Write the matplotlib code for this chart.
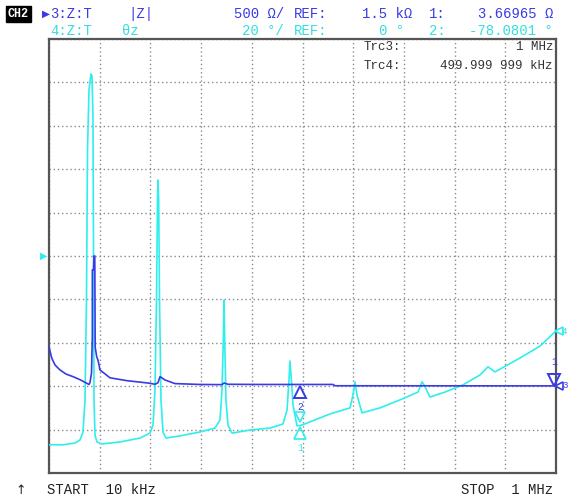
import numpy as np
import matplotlib
matplotlib.use("Agg")
import matplotlib.pyplot as plt

# ---- data (frequency in kHz) ----
z_freq = [10, 15.3, 21.7, 31.5, 43.2, 56.9, 70.5, 83.6, 88.1, 90.1, 93.0, 94.6, 94.7, 96.9,
          97.9, 99.4, 100.2, 103.1, 105.7, 109.6, 129.0, 161.7, 207.2, 217.0, 222.8, 226.8,
          236.5, 256.0, 304.9, 347.8, 351.7, 359.5, 422.0, 564.6, 568.5, 1000]
z_mag = [455, 325, 245, 187, 140, 110, 75, 34, 20, 45, 150, 570, 1340, 1340,
         1500, 1500, 450, 340, 300, 187, 97, 64, 34, 22, 40, 110,
         72, 30, 20, 18, 37, 22, 20, 20, 5, 3.67]

ph_freq = [10, 37.3, 60.8, 70.5, 76.4, 80.3, 83.2, 85.2, 88.1, 92.0, 94.0, 95.9, 96.9, 97.9,
           99.8, 103.7, 113.5, 148.6, 187.7, 207.2, 213.1, 217.0, 219.9, 221.9, 222.8, 224.2,
           225.8, 228.7, 232.6, 238.5, 265.8, 304.9, 334.1, 343.9, 347.8, 350.4, 351.7, 353.1,
           355.6, 359.5, 367.3, 402.5, 441.5, 466.9, 474.8, 478.6, 480.6, 482.6, 486.5, 494.3,
           504.0, 558.7, 597.8, 603.6, 607.5, 611.4, 621.2, 656.3, 695.4, 730.6, 738.4, 742.3,
           754.0, 783.3, 818.4, 851.6, 867.2, 880.9, 929.7, 968.8, 1000]
ph_deg = [-87, -87, -86.2, -84.8, -81.1, -66.4, -20.3, 48.9, 76.5, 83.9, 83.0, 62.7, 2.8, -66.4,
          -82.5, -85.7, -86.6, -85.7, -83.9, -81.6, -77.9, -61.7, -20.3, 25.8, 35.0, 25.8,
          -20.3, -66.4, -81.1, -83.9, -82.9, -81.1, -79.3, -75.6, -61.7, -38.7, -20.3, -38.7,
          -66.4, -77.9, -81.6, -80.2, -79.3, -77.4, -71.0, -57.1, -48.4, -54.8, -68.7, -78.3,
          -77.9, -72.8, -70.0, -64.0, -58.0, -64.0, -72.3, -70.0, -66.3, -62.7, -58.0, -59.4,
          -65.0, -62.7, -59.4, -54.8, -51.1, -53.4, -47.0, -41.5, -34.5]

header_row1 = ["3:Z:T", "|Z|", "500 Ω/", "REF:", "1.5 kΩ", "1:", "3.66965 Ω"]
header_row2 = ["4:Z:T", "θz", "20 °/", "REF:", "0 °", "2:", "-78.0801 °"]
trc_labels = ["Trc3:", "Trc4:"]
trc_values = ["1 MHz", "499.999 999 kHz"]
start_label = "START  10 kHz"
stop_label = "STOP  1 MHz"

BLUE = "#3a3ae6"
CYAN = "#2eeeee"
CYAN_T = "#33dede"
MONO = ["Liberation Mono", "DejaVu Sans Mono"]

W, H = 568, 501
fig = plt.figure(figsize=(W / 100, H / 100), dpi=100)
fig.patch.set_facecolor("white")

def fx(px):
    return px / W

def fy(py):
    return 1 - py / H

ax = fig.add_axes([fx(49), fy(473), 507 / W, 434 / H])
ax.set_xlim(10, 1000)
ax.set_ylim(-100, 100)
ax.set_xticks(np.linspace(10, 1000, 11))
ax.set_yticks(np.arange(-100, 101, 20))
ax.tick_params(length=0, labelbottom=False, labelleft=False)
ax.grid(True, color="#8a8a8a", linestyle=(0, (1, 2)), linewidth=1.0)
for s in ax.spines.values():
    s.set_color("#555555")
    s.set_linewidth(1.6)

ax.plot(ph_freq, ph_deg, color=CYAN, lw=1.2, zorder=3)

ax2 = ax.twinx()
ax2.set_ylim(-1000, 4000)
ax2.set_yticks([])
ax2.tick_params(length=0, labelright=False)
for s in ax2.spines.values():
    s.set_visible(False)
ax2.plot(z_freq, z_mag, color=BLUE, lw=1.2, zorder=4)

# markers at 500 kHz
ax.plot([500], [-62.5], marker="^", ms=8, mfc="none", mec=BLUE, mew=1.4, clip_on=False, zorder=5)
ax.text(500, -69.5, "2", color=BLUE, fontsize=7, ha="center", va="center", family=MONO)
ax.plot([500], [-74], marker="v", ms=7, mfc="none", mec=CYAN, mew=1.2, clip_on=False, zorder=5)
ax.plot([500], [-81.5], marker="^", ms=8, mfc="none", mec=CYAN, mew=1.2, clip_on=False, zorder=5)
ax.text(500, -88.5, "1", color=CYAN, fontsize=7, ha="center", va="center", family=MONO)
# marker at stop
ax.plot([997], [-57], marker="v", ms=8, mfc="none", mec=BLUE, mew=1.4, clip_on=False, zorder=5)
ax.text(997, -49, "1", color=BLUE, fontsize=7, ha="center", va="center", family=MONO)

# trace end markers on right edge
ax.plot([1006], [-34.5], marker="<", ms=6, mfc="none", mec=CYAN, mew=1.2, clip_on=False, zorder=5)
ax.plot([1006], [-60], marker="<", ms=6, mfc="none", mec=BLUE, mew=1.2, clip_on=False, zorder=5)
fig.text(fx(562), fy(331), "4", color=CYAN_T, fontsize=6.5, ha="left", va="center", family=MONO)
fig.text(fx(562), fy(386), "3", color=BLUE, fontsize=6.5, ha="left", va="center", family=MONO)
# reference position marker at left
fig.text(fx(40), fy(256), "▶", color=CYAN, fontsize=7, ha="left", va="center", family=["DejaVu Sans"])

# header
fs = 10
fig.text(fx(8), fy(14), "CH2", color="white", fontsize=8.5, ha="left", va="center", family=MONO,
         weight="bold", bbox=dict(facecolor="black", edgecolor="black", pad=1.2))
fig.text(fx(42), fy(14), "▶", color=BLUE, fontsize=7.5, ha="left", va="center", family=["DejaVu Sans"])
fig.text(fx(92), fy(14), header_row1[0], color=BLUE, fontsize=fs, ha="right", va="center", family=MONO)
fig.text(fx(128), fy(14), header_row1[1], color=BLUE, fontsize=fs, ha="left", va="center", family=MONO)
fig.text(fx(284), fy(14), header_row1[2], color=BLUE, fontsize=fs, ha="right", va="center", family=MONO)
fig.text(fx(294), fy(14), header_row1[3], color=BLUE, fontsize=fs, ha="left", va="center", family=MONO)
fig.text(fx(412), fy(14), header_row1[4], color=BLUE, fontsize=fs, ha="right", va="center", family=MONO)
fig.text(fx(429), fy(14), header_row1[5], color=BLUE, fontsize=fs, ha="left", va="center", family=MONO)
fig.text(fx(553), fy(14), header_row1[6], color=BLUE, fontsize=fs, ha="right", va="center", family=MONO)

fig.text(fx(92), fy(31), header_row2[0], color=CYAN_T, fontsize=fs, ha="right", va="center", family=MONO)
fig.text(fx(122), fy(31), header_row2[1], color=CYAN_T, fontsize=fs, ha="left", va="center", family=MONO)
fig.text(fx(284), fy(31), header_row2[2], color=CYAN_T, fontsize=fs, ha="right", va="center", family=MONO)
fig.text(fx(294), fy(31), header_row2[3], color=CYAN_T, fontsize=fs, ha="left", va="center", family=MONO)
fig.text(fx(404), fy(31), header_row2[4], color=CYAN_T, fontsize=fs, ha="right", va="center", family=MONO)
fig.text(fx(429), fy(31), header_row2[5], color=CYAN_T, fontsize=fs, ha="left", va="center", family=MONO)
fig.text(fx(553), fy(31), header_row2[6], color=CYAN_T, fontsize=fs, ha="right", va="center", family=MONO)

# marker info box inside plot
fs2 = 9
for i, (lab, val) in enumerate(zip(trc_labels, trc_values)):
    yy = 47 + i * 19
    fig.text(fx(364), fy(yy), lab, color="#333333", fontsize=fs2, ha="left", va="center", family=MONO)
    fig.text(fx(553), fy(yy), val, color="#333333", fontsize=fs2, ha="right", va="center", family=MONO)

# bottom line
fig.text(fx(21), fy(490), "↑", color="#222222", fontsize=9, ha="center", va="center", family=["DejaVu Sans"])
fig.text(fx(47), fy(490), start_label, color="#222222", fontsize=fs, ha="left", va="center", family=MONO)
fig.text(fx(553), fy(490), stop_label, color="#222222", fontsize=fs, ha="right", va="center", family=MONO)

fig.savefig("out.png", dpi=100, facecolor="white")
